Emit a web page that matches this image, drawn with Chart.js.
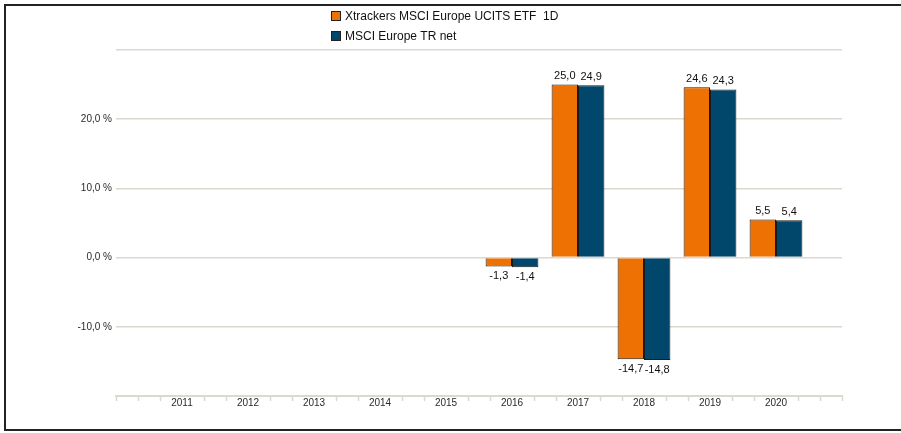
<!DOCTYPE html>
<html>
<head>
<meta charset="utf-8">
<script src="https://cdn.jsdelivr.net/npm/chart.js@4.4.1/dist/chart.umd.min.js"></script>
<style>
  html, body { margin: 0; background: #fff; overflow: hidden; }
  #chart { display: block; }
</style>
</head>
<body>
<canvas id="chart" width="901" height="433"></canvas>
<script>
// Chart data
const years = ['', '2011', '2012', '2013', '2014', '2015', '2016', '2017', '2018', '2019', '2020', ''];
const fundLabel = 'Xtrackers MSCI Europe UCITS ETF  1D';
const indexLabel = 'MSCI Europe TR net';
const fundReturns = [null, null, null, null, null, null, -1.3, 25.0, -14.7, 24.6, 5.5, null];
const indexReturns = [null, null, null, null, null, null, -1.4, 24.9, -14.8, 24.3, 5.4, null];
const yTicks = [-20, -10, 0, 10, 20, 30];

const orange = '#ee7203';
const navy = '#00476b';
const gridColor = '#dbd8d0';
const textColor = '#2a2a2a';

function fmt(v) {
    return v.toFixed(1).replace('.', ',');
}

// dark frame on left, top and bottom (open on the right)
const frame = {
    id: 'frame',
    beforeDraw(chart) {
        const ctx = chart.ctx;
        ctx.save();
        ctx.strokeStyle = '#222';
        ctx.lineWidth = 2;
        ctx.beginPath();
        ctx.moveTo(chart.width, 5);
        ctx.lineTo(5, 5);
        ctx.lineTo(5, 430);
        ctx.lineTo(chart.width, 430);
        ctx.stroke();
        ctx.restore();
    }
};

// legend drawn as two stacked rows
const stackedLegend = {
    id: 'stackedLegend',
    afterDraw(chart) {
        const ctx = chart.ctx;
        ctx.save();
        ctx.font = '12px "Liberation Sans", Arial, sans-serif';
        ctx.textBaseline = 'middle';
        chart.data.datasets.forEach((ds, i) => {
            const y = 16 + i * 20;
            ctx.fillStyle = ds.backgroundColor;
            ctx.fillRect(331.5, y - 4.5, 9, 9);
            ctx.strokeStyle = '#222';
            ctx.lineWidth = 1;
            ctx.strokeRect(331.5, y - 4.5, 9, 9);
            ctx.fillStyle = '#111';
            ctx.fillText(ds.label, 345, y + 1);
        });
        ctx.restore();
    }
};

// value labels above / below the bars
const valueLabels = {
    id: 'valueLabels',
    afterDatasetsDraw(chart) {
        const ctx = chart.ctx;
        ctx.save();
        ctx.font = '11px "Liberation Sans", Arial, sans-serif';
        ctx.fillStyle = '#111';
        ctx.textAlign = 'center';
        chart.data.datasets.forEach((ds, di) => {
            chart.getDatasetMeta(di).data.forEach((bar, i) => {
                const v = ds.data[i];
                if (v === null) return;
                if (v >= 0) {
                    ctx.textBaseline = 'bottom';
                    ctx.fillText(fmt(v), bar.x, bar.y - 3);
                } else {
                    ctx.textBaseline = 'top';
                    ctx.fillText(fmt(v), bar.x, bar.y + 4);
                }
            });
        });
        ctx.restore();
    }
};

// small tick marks on the x axis, three per category
const axisTicks = {
    id: 'axisTicks',
    afterDraw(chart) {
        const x = chart.scales.x;
        const ctx = chart.ctx;
        const y0 = chart.chartArea.bottom;
        ctx.save();
        ctx.strokeStyle = gridColor;
        ctx.lineWidth = 1.5;
        ctx.beginPath();
        for (let i = 0; i < years.length - 1; i++) {
            const p0 = x.getPixelForValue(i);
            const p1 = x.getPixelForValue(i + 1);
            const marks = [p0 + (p1 - p0) / 3, p0 + 2 * (p1 - p0) / 3];
            if (i === 0) marks.unshift(p0);
            if (i === years.length - 2) marks.push(p1);
            marks.forEach(m => {
                ctx.moveTo(Math.round(m) + 0.5, y0);
                ctx.lineTo(Math.round(m) + 0.5, y0 + 5);
            });
        }
        ctx.stroke();
        ctx.restore();
    }
};

new Chart(document.getElementById('chart').getContext('2d'), {
    type: 'bar',
    data: {
        labels: years,
        datasets: [
            {
                label: fundLabel,
                data: fundReturns,
                backgroundColor: orange,
                borderColor: '#1a1a1a',
                borderWidth: 1,
                categoryPercentage: 0.8,
                barPercentage: 1.0
            },
            {
                label: indexLabel,
                data: indexReturns,
                backgroundColor: navy,
                borderColor: '#1a1a1a',
                borderWidth: 1,
                categoryPercentage: 0.8,
                barPercentage: 1.0
            }
        ]
    },
    options: {
        responsive: false,
        animation: false,
        devicePixelRatio: 1,
        layout: { padding: { top: 50, right: 59, left: 0, bottom: 0 } },
        plugins: {
            legend: { display: false },
            tooltip: { enabled: false }
        },
        scales: {
            x: {
                offset: false,
                grid: { display: false, drawTicks: false },
                border: { display: true, color: gridColor, width: 2 },
                ticks: {
                    autoSkip: false,
                    maxRotation: 0,
                    padding: 1,
                    color: textColor,
                    font: { size: 10, family: '"Liberation Sans", Arial, sans-serif' }
                },
                afterFit(scale) { scale.height = 37; }
            },
            y: {
                min: yTicks[0],
                max: yTicks[yTicks.length - 1],
                afterBuildTicks(scale) {
                    scale.ticks = yTicks.map(v => ({ value: v }));
                },
                grid: {
                    drawTicks: false,
                    color: ctx => (ctx.tick && ctx.tick.value === yTicks[0]) ? 'rgba(0,0,0,0)' : gridColor,
                    lineWidth: 1.5
                },
                border: { display: false },
                ticks: {
                    padding: 4,
                    color: textColor,
                    font: { size: 10, family: '"Liberation Sans", Arial, sans-serif' },
                    callback: v => (v === yTicks[0] || v === yTicks[yTicks.length - 1]) ? '' : fmt(v) + ' %'
                },
                afterFit(scale) { scale.width = 116; }
            }
        }
    },
    plugins: [frame, stackedLegend, valueLabels, axisTicks]
});
</script>
</body>
</html>
